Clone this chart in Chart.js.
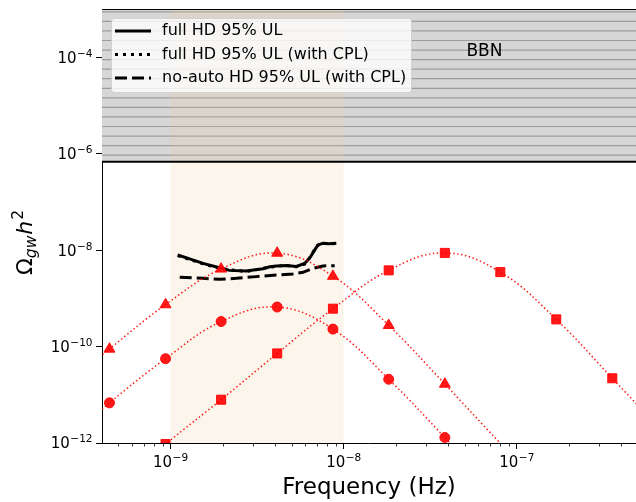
<!DOCTYPE html>
<html>
<head>
<meta charset="utf-8">
<script src="https://cdn.jsdelivr.net/npm/chart.js@4.4.0/dist/chart.umd.min.js"></script>
<style>
  html, body { margin: 0; padding: 0; background: #fff; }
  #wrap { width: 636px; height: 502px; }
</style>
</head>
<body>
<div id="wrap"><canvas id="chart"></canvas></div>
<script>
// 赤の点線モデル (マーカー位置)
const modelFreq = [4.44e-10, 9.36e-10, 1.96e-9, 4.13e-9, 8.67e-9, 1.82e-8, 3.84e-8];
const triOmega = [8.9e-11, 7.4e-10, 4.07e-9, 8.67e-9, 2.88e-9, 2.75e-10, 1.67e-11];
const circOmega = [6.8e-12, 5.6e-11, 3.3e-10, 6.6e-10, 2.3e-10, 2.1e-11, 1.3e-12];
const sqFreq = [9.36e-10, 1.96e-9, 4.13e-9, 8.67e-9, 1.82e-8, 3.84e-8, 8.03e-8, 1.69e-7, 3.56e-7];
const sqOmega = [9.5e-13, 7.9e-12, 7.2e-11, 6.1e-10, 3.8e-9, 8.75e-9, 3.5e-9, 3.66e-10, 2.2e-11];

// 点線がマーカーの外まで続く部分 [freq, omega]
const triTailLo = [[2.11e-10, 9.5e-12]];
const triTailHi = [[8.03e-8, 9.8e-13], [1.69e-7, 5.8e-14]];
const circTailLo = [[2.11e-10, 6.9e-13]];
const circTailHi = [[8.03e-8, 7.7e-14]];
const sqTailLo = [[4.44e-10, 1.0e-13]];
const sqTailHi = [[7.49e-7, 1.29e-12]];

// 上限曲線
const ulFreq = [1.10e-9, 1.29e-9, 1.54e-9, 1.92e-9, 2.19e-9, 2.74e-9, 3.42e-9, 3.75e-9, 4.08e-9, 4.67e-9, 5.33e-9, 5.95e-9, 6.36e-9, 6.71e-9, 7.10e-9, 7.59e-9, 8.2e-9, 9.07e-9];
const ulOmega = [7.9e-9, 6.6e-9, 5.3e-9, 4.3e-9, 3.8e-9, 3.7e-9, 4.1e-9, 4.5e-9, 4.7e-9, 4.8e-9, 4.6e-9, 5.3e-9, 6.8e-9, 9.3e-9, 1.28e-8, 1.38e-8, 1.36e-8, 1.38e-8];
const cplFreq = [1.10e-9, 1.29e-9, 1.54e-9, 1.92e-9, 2.19e-9, 2.74e-9, 3.42e-9, 4.08e-9, 4.67e-9, 5.33e-9, 5.95e-9, 6.36e-9, 6.71e-9, 7.10e-9, 7.59e-9, 8.2e-9, 9.07e-9];
const cplOmega = [7.7e-9, 6.4e-9, 5.2e-9, 4.2e-9, 3.9e-9, 3.6e-9, 4.2e-9, 4.6e-9, 4.8e-9, 4.5e-9, 5.1e-9, 7.0e-9, 9.6e-9, 1.26e-8, 1.40e-8, 1.34e-8, 1.37e-8];
const noAutoFreq = [1.13e-9, 1.54e-9, 1.92e-9, 2.40e-9, 3.13e-9, 4.08e-9, 5.09e-9, 5.82e-9, 6.65e-9, 7.59e-9, 8.87e-9];
const noAutoOmega = [2.73e-9, 2.60e-9, 2.48e-9, 2.60e-9, 2.82e-9, 3.05e-9, 3.21e-9, 3.46e-9, 4.19e-9, 4.70e-9, 4.75e-9];

// 領域・軸
const bbnLimit = 6.8e-7;
const bandRange = [1e-9, 1e-8];
const xRange = [4.02e-10, 4.88e-7];
const yRange = [1e-12, 1e-3];
const xTicks = [1e-9, 1e-8, 1e-7];
const yTicks = [1e-12, 1e-10, 1e-8, 1e-6, 1e-4];

const FONT = 'DejaVu Sans';
const RED = 'rgba(255,0,0,0.9)';

const pts = (xs, ys) => xs.map((x, i) => ({ x: x, y: ys[i] }));
const tail = arr => arr.map(p => ({ x: p[0], y: p[1] }));

function redCurve(lo, xs, ys, hi) {
  return {
    data: [...tail(lo), ...pts(xs, ys), ...tail(hi)],
    showLine: true,
    borderColor: RED,
    borderWidth: 1.5,
    borderDash: [1.5, 2.5],
    tension: 0.4,
    pointRadius: 0,
    order: 2
  };
}

function redMarks(xs, ys, style, r) {
  return {
    data: pts(xs, ys),
    showLine: false,
    pointStyle: style,
    pointRadius: r,
    backgroundColor: RED,
    borderColor: RED,
    borderWidth: 1,
    clip: 0,
    order: 1
  };
}

function blackCurve(label, xs, ys, dash) {
  return {
    label: label,
    data: pts(xs, ys),
    showLine: true,
    borderColor: '#000',
    borderWidth: 3,
    borderDash: dash,
    tension: 0,
    pointRadius: 0,
    order: 3
  };
}

// 指数表記 10^n を描く
function drawPow(ctx, exp, x, y, align) {
  const base = '10';
  const sup = '\u2212' + Math.abs(exp);
  ctx.font = '15px "' + FONT + '"';
  const w1 = ctx.measureText(base).width;
  ctx.font = '10.5px "' + FONT + '"';
  const w2 = ctx.measureText(sup).width;
  const total = w1 + w2 + 0.5;
  const x0 = align === 'right' ? x - total : x - total / 2;
  ctx.textAlign = 'left';
  ctx.textBaseline = 'alphabetic';
  ctx.font = '15px "' + FONT + '"';
  ctx.fillText(base, x0, y);
  ctx.font = '10.5px "' + FONT + '"';
  ctx.fillText(sup, x0 + w1 + 0.5, y - 6);
}

// 背景: BBN領域と周波数帯
const backdrop = {
  id: 'backdrop',
  beforeDatasetsDraw(chart) {
    const { ctx, chartArea: a, scales } = chart;
    const yb = scales.y.getPixelForValue(bbnLimit);
    ctx.save();
    ctx.beginPath();
    ctx.rect(a.left, a.top, a.right - a.left, a.bottom - a.top);
    ctx.clip();

    ctx.fillStyle = '#d6d6d6';
    ctx.fillRect(a.left, a.top, a.right - a.left, yb - a.top);
    ctx.strokeStyle = '#9c9c9c';
    ctx.lineWidth = 1.2;
    for (let y = a.top + 2.8; y < yb - 2; y += 9.56) {
      ctx.beginPath();
      ctx.moveTo(a.left, y);
      ctx.lineTo(a.right, y);
      ctx.stroke();
    }

    const x0 = scales.x.getPixelForValue(bandRange[0]);
    const x1 = scales.x.getPixelForValue(bandRange[1]);
    ctx.fillStyle = 'rgba(235,205,160,0.2)';
    ctx.fillRect(x0, a.top, x1 - x0, a.bottom - a.top);

    ctx.strokeStyle = '#000';
    ctx.lineWidth = 2;
    ctx.beginPath();
    ctx.moveTo(a.left, yb);
    ctx.lineTo(a.right, yb);
    ctx.stroke();

    ctx.fillStyle = '#000';
    ctx.font = '17px "' + FONT + '"';
    ctx.textAlign = 'center';
    ctx.textBaseline = 'middle';
    ctx.fillText('BBN', scales.x.getPixelForValue(6.5e-8), scales.y.getPixelForValue(1.3e-4));
    ctx.restore();

    // 上の枠線
    ctx.save();
    ctx.strokeStyle = '#000';
    ctx.lineWidth = 1;
    ctx.beginPath();
    ctx.moveTo(a.left, a.top + 0.5);
    ctx.lineTo(a.right, a.top + 0.5);
    ctx.stroke();
    ctx.restore();
  }
};

// 目盛りラベル・補助目盛り・凡例・縦軸タイトル
const overlay = {
  id: 'overlay',
  afterDatasetsDraw(chart) {
    const { ctx, chartArea: a, scales } = chart;
    ctx.save();
    ctx.fillStyle = '#000';

    // x 補助目盛り
    ctx.strokeStyle = '#000';
    ctx.lineWidth = 0.8;
    for (let k = -10; k <= -7; k++) {
      for (let m = 2; m <= 9; m++) {
        const v = m * Math.pow(10, k);
        if (v < xRange[0] || v > xRange[1]) continue;
        const px = Math.round(scales.x.getPixelForValue(v)) + 0.5;
        ctx.beginPath();
        ctx.moveTo(px, a.bottom);
        ctx.lineTo(px, a.bottom + 3.5);
        ctx.stroke();
      }
    }

    xTicks.forEach(v => {
      drawPow(ctx, Math.round(Math.log10(v)), scales.x.getPixelForValue(v), 467, 'center');
    });
    yTicks.forEach(v => {
      drawPow(ctx, Math.round(Math.log10(v)), 92.5, scales.y.getPixelForValue(v) + 5.4, 'right');
    });

    // 縦軸タイトル Ω_gw h^2
    ctx.translate(31.5, 275);
    ctx.rotate(-Math.PI / 2);
    ctx.textAlign = 'left';
    ctx.textBaseline = 'alphabetic';
    let cx = 0;
    ctx.font = '22px "' + FONT + '"';
    ctx.fillText('\u03A9', cx, 0);
    cx += ctx.measureText('\u03A9').width;
    ctx.font = 'italic 15.5px "' + FONT + '"';
    ctx.fillText('gw', cx, 4);
    cx += ctx.measureText('gw').width + 1;
    ctx.font = 'italic 22px "' + FONT + '"';
    ctx.fillText('h', cx, 0);
    cx += ctx.measureText('h').width + 1;
    ctx.font = '15.5px "' + FONT + '"';
    ctx.fillText('2', cx, -9);
    ctx.restore();

    // 凡例
    ctx.save();
    const lx = 111.5, ly = 18.5, lw = 300, lh = 74;
    ctx.beginPath();
    ctx.roundRect(lx, ly, lw, lh, 3);
    ctx.fillStyle = 'rgba(255,255,255,0.8)';
    ctx.fill();
    ctx.strokeStyle = 'rgba(204,204,204,0.8)';
    ctx.lineWidth = 1;
    ctx.stroke();
    const items = chart.data.datasets.filter(d => d.label);
    items.forEach((d, i) => {
      const y = 31 + i * 23.5;
      ctx.strokeStyle = d.borderColor;
      ctx.lineWidth = d.borderWidth;
      ctx.setLineDash(d.borderDash || []);
      ctx.beginPath();
      ctx.moveTo(115, y);
      ctx.lineTo(151, y);
      ctx.stroke();
      ctx.setLineDash([]);
      ctx.fillStyle = '#000';
      ctx.font = '16px "' + FONT + '"';
      ctx.textAlign = 'left';
      ctx.textBaseline = 'middle';
      ctx.fillText(d.label, 162, y);
    });
    ctx.restore();
  }
};

const chart = new Chart(document.getElementById('chart'), {
  type: 'scatter',
  data: {
    datasets: [
      blackCurve('full HD 95% UL', ulFreq, ulOmega, []),
      blackCurve('full HD 95% UL (with CPL)', cplFreq, cplOmega, [3, 5]),
      blackCurve('no-auto HD 95% UL (with CPL)', noAutoFreq, noAutoOmega, [12, 5]),
      redCurve(triTailLo, modelFreq, triOmega, triTailHi),
      redCurve(circTailLo, modelFreq, circOmega, circTailHi),
      redCurve(sqTailLo, sqFreq, sqOmega, sqTailHi),
      redMarks(modelFreq, triOmega, 'triangle', 6.3),
      redMarks(modelFreq, circOmega, 'circle', 5),
      redMarks(sqFreq, sqOmega, 'rect', 6.4)
    ]
  },
  options: {
    responsive: true,
    maintainAspectRatio: false,
    animation: false,
    layout: { autoPadding: false, padding: { top: 9, right: 0, bottom: 0, left: 0 } },
    plugins: {
      legend: { display: false },
      tooltip: { enabled: false }
    },
    scales: {
      x: {
        type: 'logarithmic',
        min: xRange[0],
        max: xRange[1],
        afterBuildTicks: s => { s.ticks = xTicks.map(v => ({ value: v })); },
        afterFit: s => { s.height = 59; s.paddingLeft = 0; s.paddingRight = 0; },
        ticks: { display: false },
        grid: { drawOnChartArea: false, drawTicks: true, tickLength: 6, tickColor: '#000', tickWidth: 1 },
        border: { display: true, color: '#000', width: 1 },
        title: {
          display: true,
          text: 'Frequency (Hz)',
          color: '#000',
          font: { family: FONT, size: 23 },
          padding: { top: 0, bottom: 0 }
        }
      },
      y: {
        type: 'logarithmic',
        min: yRange[0],
        max: yRange[1],
        afterBuildTicks: s => { s.ticks = yTicks.map(v => ({ value: v })); },
        afterFit: s => { s.width = 102; s.paddingTop = 0; s.paddingBottom = 0; },
        ticks: { display: false },
        grid: { drawOnChartArea: false, drawTicks: true, tickLength: 6, tickColor: '#000', tickWidth: 1 },
        border: { display: true, color: '#000', width: 1 }
      }
    }
  },
  plugins: [backdrop, overlay]
});
</script>
</body>
</html>
